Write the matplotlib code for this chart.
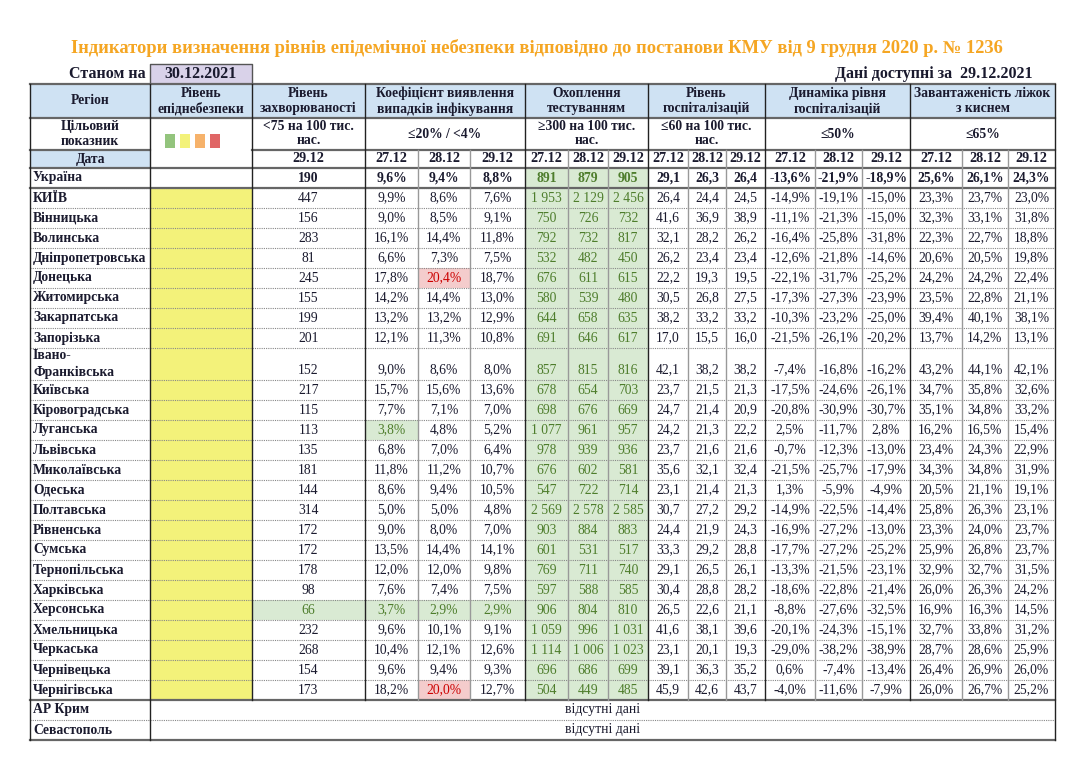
import matplotlib
matplotlib.use("Agg")
import matplotlib.pyplot as plt
from matplotlib.patches import Rectangle

plt.rcParams["font.family"] = ["Liberation Serif", "DejaVu Serif"]

TITLE = "Індикатори визначення рівнів епідемічної небезпеки відповідно до постанови КМУ від 9 грудня 2020 р. № 1236"
AS_OF = "30.12.2021"
DATA_FOR = "29.12.2021"
DATES3 = ["27.12", "28.12", "29.12"]

regions = ["Україна", "КИЇВ", "Вінницька", "Волинська", "Дніпропетровська", "Донецька", "Житомирська",
           "Закарпатська", "Запорізька", "Івано-\nФранківська", "Київська", "Кіровоградська", "Луганська",
           "Львівська", "Миколаївська", "Одеська", "Полтавська", "Рівненська", "Сумська", "Тернопільська",
           "Харківська", "Херсонська", "Хмельницька", "Черкаська", "Чернівецька", "Чернігівська"]
incidence = [190, 447, 156, 283, 81, 245, 155, 199, 201, 152, 217, 115, 113, 135, 181, 144, 314, 172, 172,
             178, 98, 66, 232, 268, 154, 173]
coef = [[9.6, 9.4, 8.8], [9.9, 8.6, 7.6], [9.0, 8.5, 9.1], [16.1, 14.4, 11.8], [6.6, 7.3, 7.5],
        [17.8, 20.4, 18.7], [14.2, 14.4, 13.0], [13.2, 13.2, 12.9], [12.1, 11.3, 10.8], [9.0, 8.6, 8.0],
        [15.7, 15.6, 13.6], [7.7, 7.1, 7.0], [3.8, 4.8, 5.2], [6.8, 7.0, 6.4], [11.8, 11.2, 10.7],
        [8.6, 9.4, 10.5], [5.0, 5.0, 4.8], [9.0, 8.0, 7.0], [13.5, 14.4, 14.1], [12.0, 12.0, 9.8],
        [7.6, 7.4, 7.5], [3.7, 2.9, 2.9], [9.6, 10.1, 9.1], [10.4, 12.1, 12.6], [9.6, 9.4, 9.3],
        [18.2, 20.0, 12.7]]
testing = [[891, 879, 905], [1953, 2129, 2456], [750, 726, 732], [792, 732, 817], [532, 482, 450],
           [676, 611, 615], [580, 539, 480], [644, 658, 635], [691, 646, 617], [857, 815, 816],
           [678, 654, 703], [698, 676, 669], [1077, 961, 957], [978, 939, 936], [676, 602, 581],
           [547, 722, 714], [2569, 2578, 2585], [903, 884, 883], [601, 531, 517], [769, 711, 740],
           [597, 588, 585], [906, 804, 810], [1059, 996, 1031], [1114, 1006, 1023], [696, 686, 699],
           [504, 449, 485]]
hosp = [[29.1, 26.3, 26.4], [26.4, 24.4, 24.5], [41.6, 36.9, 38.9], [32.1, 28.2, 26.2], [26.2, 23.4, 23.4],
        [22.2, 19.3, 19.5], [30.5, 26.8, 27.5], [38.2, 33.2, 33.2], [17.0, 15.5, 16.0], [42.1, 38.2, 38.2],
        [23.7, 21.5, 21.3], [24.7, 21.4, 20.9], [24.2, 21.3, 22.2], [23.7, 21.6, 21.6], [35.6, 32.1, 32.4],
        [23.1, 21.4, 21.3], [30.7, 27.2, 29.2], [24.4, 21.9, 24.3], [33.3, 29.2, 28.8], [29.1, 26.5, 26.1],
        [30.4, 28.8, 28.2], [26.5, 22.6, 21.1], [41.6, 38.1, 39.6], [23.1, 20.1, 19.3], [39.1, 36.3, 35.2],
        [45.9, 42.6, 43.7]]
dynamics = [[-13.6, -21.9, -18.9], [-14.9, -19.1, -15.0], [-11.1, -21.3, -15.0], [-16.4, -25.8, -31.8],
            [-12.6, -21.8, -14.6], [-22.1, -31.7, -25.2], [-17.3, -27.3, -23.9], [-10.3, -23.2, -25.0],
            [-21.5, -26.1, -20.2], [-7.4, -16.8, -16.2], [-17.5, -24.6, -26.1], [-20.8, -30.9, -30.7],
            [2.5, -11.7, 2.8], [-0.7, -12.3, -13.0], [-21.5, -25.7, -17.9], [1.3, -5.9, -4.9],
            [-14.9, -22.5, -14.4], [-16.9, -27.2, -13.0], [-17.7, -27.2, -25.2], [-13.3, -21.5, -23.1],
            [-18.6, -22.8, -21.4], [-8.8, -27.6, -32.5], [-20.1, -24.3, -15.1], [-29.0, -38.2, -38.9],
            [0.6, -7.4, -13.4], [-4.0, -11.6, -7.9]]
beds = [[25.6, 26.1, 24.3], [23.3, 23.7, 23.0], [32.3, 33.1, 31.8], [22.3, 22.7, 18.8], [20.6, 20.5, 19.8],
        [24.2, 24.2, 22.4], [23.5, 22.8, 21.1], [39.4, 40.1, 38.1], [13.7, 14.2, 13.1], [43.2, 44.1, 42.1],
        [34.7, 35.8, 32.6], [35.1, 34.8, 33.2], [16.2, 16.5, 15.4], [23.4, 24.3, 22.9], [34.3, 34.8, 31.9],
        [20.5, 21.1, 19.1], [25.8, 26.3, 23.1], [23.3, 24.0, 23.7], [25.9, 26.8, 23.7], [32.9, 32.7, 31.5],
        [26.0, 26.3, 24.2], [16.9, 16.3, 14.5], [32.7, 33.8, 31.2], [28.7, 28.6, 25.9], [26.4, 26.9, 26.0],
        [26.0, 26.7, 25.2]]
missing = ["АР Крим", "Севастополь"]
MISSING_TEXT = "відсутні дані"

HDR = "#cfe2f3"
GREEN = "#d9ead3"
RED = "#f4cccc"
YELLOW = "#f3f27a"
TXT = "#1a1a2e"
GTXT = "#4e7d2c"

# column edges (pixels)
xs = [30, 150, 252, 365, 418, 470, 525, 568, 608, 648, 688, 726, 765, 815, 862, 910, 962, 1008, 1055]

fig = plt.figure(figsize=(10.78, 7.67), dpi=100)
ax = fig.add_axes([0, 0, 1, 1])
ax.set_xlim(0, 1078)
ax.set_ylim(767, 0)
ax.axis("off")


def rect(x0, y0, x1, y1, color):
    ax.add_patch(Rectangle((x0, y0), x1 - x0, y1 - y0, facecolor=color, edgecolor="none", zorder=0))


def txt(x, y, s, ha="center", bold=False, color=TXT, size=9.8, ls=1.2):
    ax.text(x, y, s, ha=ha, va="center", fontsize=size, color=color, multialignment=ha,
            fontweight="bold" if bold else "normal", linespacing=ls)


def fmt(v, pct=False):
    s = f"{v:.1f}".replace(".", ",")
    return s + "%" if pct else s


def fmt_int(v):
    return f"{v:,}".replace(",", " ")


txt(537, 48, TITLE, bold=True, color="#f5a623", size=13.3)
rect(150, 64, 252, 84, "#d9d2e9")
ax.plot([150, 150, 252, 252], [84, 64, 64, 84], color="#555", lw=1)
txt(146, 74, "Станом на", ha="right", bold=True, size=11.5)
txt(201, 74, AS_OF, bold=True, size=11.5)
txt(1033, 74, "Дані доступні за  " + DATA_FOR, ha="right", bold=True, size=11.5)

# header
y_h0, y_h1, y_h2, y_h3 = 84, 118, 150, 168
rect(30, y_h0, 1055, y_h1, HDR)
rect(30, y_h2, 150, y_h3, HDR)
groups = [(2, 3, "Рівень\nепіднебезпеки", ""), (3, 4, "Рівень\nзахворюваності", "<75 на 100 тис.\nнас."),
          (4, 7, "Коефіцієнт виявлення\nвипадків інфікування", "≤20% / <4%"),
          (7, 10, "Охоплення\nтестуванням", "≥300 на 100 тис.\nнас."),
          (10, 13, "Рівень\nгоспіталізацій", "≤60 на 100 тис.\nнас."),
          (13, 16, "Динаміка рівня\nгоспіталізацій", "≤50%"),
          (16, 19, "Завантаженість ліжок\nз киснем", "≤65%")]
txt(90, 101, "Регіон", bold=True)
txt(90, 134, "Цільовий\nпоказник", bold=True)
txt(90, 159, "Дата", bold=True)
for a, b, name, target in groups:
    cx = (xs[a - 1] + xs[b - 1]) / 2
    txt(cx, 101, name, bold=True)
    if target:
        txt(cx, 134, target, bold=True, ls=1.1)
for i, c in enumerate(["#93c47d", "#f3f27a", "#f6b26b", "#e06666"]):
    rect(165 + i * 15, 134, 175 + i * 15, 148, c)
txt((xs[2] + xs[3]) / 2, 159, DATES3[-1], bold=True, size=10.2)
for k in range(3, 18):
    txt((xs[k] + xs[k + 1]) / 2, 159, DATES3[k % 3], bold=True, size=10.2)

# row layout
row_top = [168]
heights = [20] * len(regions)
heights[regions.index("Івано-\nФранківська")] = 32
for h in heights:
    row_top.append(row_top[-1] + h)

for i, reg in enumerate(regions):
    y0, y1 = row_top[i], row_top[i + 1]
    yc = (y0 + y1) / 2
    bold = i == 0
    txt(33, yc, reg, ha="left", bold=True, ls=1.4)
    if i > 0:
        rect(xs[1], y0, xs[2], y1, YELLOW)
    cols = [(incidence[i], str(incidence[i]), incidence[i] < 75, False)]
    cols += [(v, fmt(v, True), v < 4, v >= 20) for v in coef[i]]
    cols += [(v, fmt_int(v), v >= 300, False) for v in testing[i]]
    cols += [(v, fmt(v), False, False) for v in hosp[i]]
    cols += [(v, fmt(v, True), False, False) for v in dynamics[i]]
    cols += [(v, fmt(v, True), False, False) for v in beds[i]]
    for k, (v, s, good, bad) in enumerate(cols):
        x0, x1 = xs[k + 2], xs[k + 3]
        color = TXT
        if good:
            rect(x0, y0, x1, y1, GREEN)
            color = GTXT
        elif bad:
            rect(x0, y0, x1, y1, RED)
            color = "#cc0000"
        ty = y1 - 10 if heights[i] > 20 else yc
        txt((x0 + x1) / 2, ty, s, bold=bold, color=color)

y = row_top[-1]
miss_top = [y + 20 * j for j in range(len(missing) + 1)]
for j, reg in enumerate(missing):
    yc = miss_top[j] + 10
    txt(33, yc, reg, ha="left", bold=True)
    txt((xs[1] + xs[-1]) / 2, yc, MISSING_TEXT)
y_end = miss_top[-1]

# grid lines
for yy in row_top[1:-1] + miss_top[1:-1]:
    ax.plot([30, 1055], [yy, yy], color="#888", lw=0.8, ls=(0, (1, 1)))
for yy in [y_h0, y_h1, y_h3, row_top[1], row_top[-1], y_end]:
    ax.plot([30, 1055], [yy, yy], color="#666", lw=1.6)
ax.plot([30, 150], [y_h2, y_h2], color="#666", lw=1.6)
ax.plot([252, 1055], [y_h2, y_h2], color="#666", lw=1.6)
major = {0, 1, 2, 3, 6, 9, 12, 15, 18}
for k, xx in enumerate(xs):
    if k in major:
        bottom = y_end if k in (0, 1, 18) else row_top[-1]
        ax.plot([xx, xx], [y_h0, bottom], color="#222", lw=1.0)
    else:
        ax.plot([xx, xx], [y_h2, row_top[-1]], color="#999", lw=1.0)

fig.savefig("out.png", dpi=100)
